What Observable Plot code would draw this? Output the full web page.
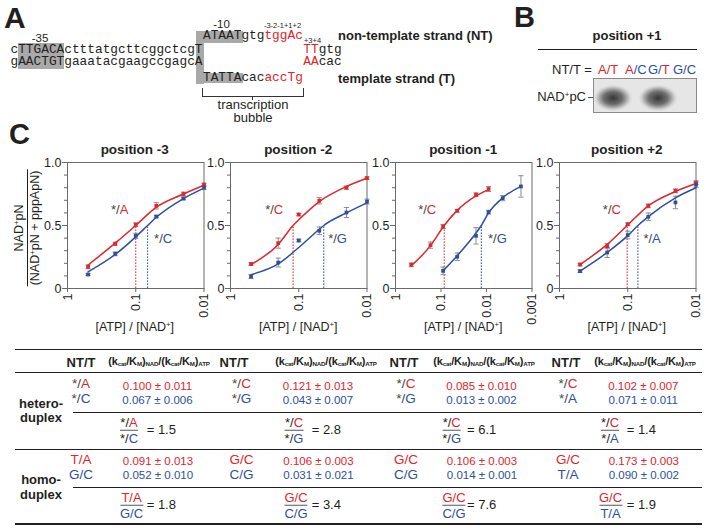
<!DOCTYPE html>
<html><head><meta charset="utf-8">
<script src="https://cdn.jsdelivr.net/npm/d3@7"></script>
<script src="https://cdn.jsdelivr.net/npm/@observablehq/plot@0.6"></script>
<style>
body{margin:0;background:#fff;}
#fig{position:relative;width:706px;height:529px;overflow:hidden;background:#fff;font-family:"Liberation Sans",Arial,Helvetica,sans-serif;color:#231f20;}
.t{position:absolute;white-space:nowrap;line-height:0.9;}
.mono{font-family:"Liberation Mono","DejaVu Sans Mono",monospace;line-height:0.85;}
.sup{font-size:0.62em;position:relative;top:-0.5em;}
.sub{font-size:0.56em;position:relative;top:0.3em;}
</style></head><body><div id="fig"></div>
<script>
const RED = "#e2242b", BLUE = "#2c4f9f", INK = "#231f20", GREY = "#8c8c8c";

// ---------- panel C data ----------
const panelTitles = ["position -3", "position -2", "position -1", "position +2"];
const redLetter = ["A", "C", "C", "C"];
const blueLetter = ["C", "G", "G", "A"];
const yTicks = [0, 0.5, 1];
const yMinor = [0.1, 0.2, 0.3, 0.4, 0.6, 0.7, 0.8, 0.9];
const xTicks2 = [1, 0.1, 0.01];
const xTicks3 = [1, 0.1, 0.01, 0.001];
const conc = [0.5, 0.2, 0.1, 0.05, 0.02, 0.01];

// position -3
const m3RedY = [0.172, 0.355, 0.506, 0.656, 0.750, 0.825];
const m3RedErr = [0.015, 0.012, 0.015, 0.025, 0.015, 0.010];
const m3BlueY = [0.111, 0.275, 0.418, 0.571, 0.714, 0.800];
const m3BlueErr = [0.008, 0.015, 0.020, 0.010, 0.010, 0.012];
const m3RedFitX = [0.5, 0.2, 0.1, 0.05, 0.02, 0.01];
const m3RedFitY = [0.186, 0.360, 0.500, 0.645, 0.750, 0.820];
const m3BlueFitX = [0.5, 0.2, 0.1, 0.067, 0.05, 0.02, 0.01];
const m3BlueFitY = [0.132, 0.270, 0.410, 0.500, 0.565, 0.714, 0.797];
// position -2
const m2RedY = [0.194, 0.360, 0.587, 0.696, 0.800, 0.876];
const m2RedErr = [0.010, 0.040, 0.010, 0.025, 0.012, 0.010];
const m2BlueY = [0.095, 0.206, 0.381, 0.458, 0.603, 0.690];
const m2BlueErr = [0.015, 0.035, 0.010, 0.030, 0.040, 0.020];
const m2RedFitX = [0.5, 0.2, 0.121, 0.1, 0.05, 0.02, 0.01];
const m2RedFitY = [0.190, 0.350, 0.500, 0.545, 0.690, 0.810, 0.875];
const m2BlueFitX = [0.5, 0.2, 0.1, 0.05, 0.043, 0.02, 0.01];
const m2BlueFitY = [0.110, 0.195, 0.325, 0.470, 0.500, 0.600, 0.680];
// position -1
const m1RedX = [0.45, 0.17, 0.09, 0.044, 0.017, 0.009];
const m1RedY = [0.188, 0.344, 0.492, 0.617, 0.744, 0.790];
const m1RedErr = [0.015, 0.025, 0.015, 0.010, 0.015, 0.020];
const m1BlueX = [0.09, 0.044, 0.017, 0.009, 0.0044, 0.00175];
const m1BlueY = [0.140, 0.252, 0.418, 0.606, 0.717, 0.810];
const m1BlueErr = [0.030, 0.030, 0.065, 0.015, 0.020, 0.085];
const m1RedFitX = [0.45, 0.17, 0.085, 0.044, 0.017, 0.009];
const m1RedFitY = [0.180, 0.340, 0.500, 0.620, 0.735, 0.785];
const m1BlueFitX = [0.09, 0.044, 0.017, 0.013, 0.009, 0.0044, 0.00175];
const m1BlueFitY = [0.140, 0.260, 0.440, 0.500, 0.600, 0.720, 0.810];
// position +2
const p2RedY = [0.190, 0.336, 0.510, 0.656, 0.775, 0.840];
const p2RedErr = [0.010, 0.020, 0.010, 0.015, 0.015, 0.015];
const p2BlueY = [0.138, 0.286, 0.424, 0.569, 0.683, 0.823];
const p2BlueErr = [0.010, 0.040, 0.030, 0.030, 0.050, 0.020];
const p2RedFitX = [0.5, 0.2, 0.102, 0.05, 0.02, 0.01];
const p2RedFitY = [0.190, 0.350, 0.500, 0.656, 0.770, 0.833];
const p2BlueFitX = [0.5, 0.2, 0.1, 0.071, 0.05, 0.02, 0.01];
const p2BlueFitY = [0.138, 0.286, 0.420, 0.500, 0.571, 0.720, 0.800];
// curve label anchors (data units)
const redLabelX = [0.172, 0.232, 0.205, 0.173];
const blueLabelX = [0.0402, 0.0277, 0.00597, 0.044];
const redLabelY = 0.627, blueLabelY = 0.397;

// ---------- table data ----------
const heteroRedGeno = ["A", "C", "C", "C"];
const heteroBlueGeno = ["C", "G", "G", "A"];
const heteroRedRatio = [0.100, 0.121, 0.085, 0.102];
const heteroRedErr = [0.011, 0.013, 0.010, 0.007];
const heteroBlueRatio = [0.067, 0.043, 0.013, 0.071];
const heteroBlueErr = [0.006, 0.007, 0.002, 0.011];
const heteroFold = ["1.5", "2.8", "6.1", "1.4"];
const homoRedPair = ["T/A", "G/C", "G/C", "G/C"];
const homoBluePair = ["G/C", "C/G", "C/G", "T/A"];
const homoRedRatio = [0.091, 0.106, 0.106, 0.173];
const homoRedErr = [0.013, 0.003, 0.003, 0.003];
const homoBlueRatio = [0.052, 0.031, 0.014, 0.090];
const homoBlueErr = [0.010, 0.021, 0.001, 0.002];
const homoFold = ["1.8", "3.4", "7.6", "1.9"];

// ---------- helpers ----------
const fig = document.getElementById("fig");
function T(html, x, y, o = {}) {
  const d = document.createElement("div");
  d.className = "t" + (o.mono ? " mono" : "");
  d.innerHTML = html;
  const ax = o.anchor === "middle" ? -50 : o.anchor === "end" ? -100 : 0;
  d.style.left = x + "px"; d.style.top = y + "px";
  d.style.transform = `translate(${ax}%,-50%)` + (o.rotate ? ` rotate(${o.rotate}deg)` : "");
  d.style.fontSize = (o.size || 12.5) + "px";
  if (o.bold) d.style.fontWeight = "bold";
  if (o.color) d.style.color = o.color;
  if (o.css) Object.assign(d.style, o.css);
  fig.appendChild(d); return d;
}
function R(x, y, w, h, color) {
  const d = document.createElement("div");
  Object.assign(d.style, {position: "absolute", left: x + "px", top: y + "px", width: w + "px", height: h + "px", background: color || INK});
  fig.appendChild(d); return d;
}
const r = s => `<span style="color:${RED}">${s}</span>`;
const b = s => `<span style="color:${BLUE}">${s}</span>`;

// ---------- panel A ----------
T("A", 4, 17, {size: 30, bold: true});
R(18, 43, 46, 26, "#a9a9a9");
R(195.5, 31, 8, 53, "#a9a9a9");
R(199.3, 31, 43.4, 12.3, "#a9a9a9");
R(199.3, 72.7, 43.4, 10.7, "#a9a9a9");
T("-35", 40, 37.5, {anchor: "middle", size: 11.5});
T("-10", 221.5, 24, {anchor: "middle", size: 11.5});
const ms = 12.8;
T("cTTGACActttatgcttcggctcgT", 10.5, 50, {mono: true, size: ms});
T("gAACTGTgaaatacgaagccgagcA", 10.5, 61.7, {mono: true, size: ms});
T("ATAATgtg" + r("tggAc"), 203, 36.2, {mono: true, size: ms});
T(r("TT") + "gtg", 303.3, 50, {mono: true, size: ms});
T(r("AA") + "cac", 303.3, 61.7, {mono: true, size: ms});
T("TATTAcac" + r("accTg"), 203, 78.2, {mono: true, size: ms});
T("-3-2-1+1+2", 282.5, 25.5, {anchor: "middle", size: 7.5});
T("+3+4", 312.5, 41.3, {anchor: "middle", size: 7.5});
R(202, 88, 1, 9, "#333"); R(303, 88, 1, 9, "#333"); R(202, 96, 102, 1, "#333"); R(252, 96, 1, 4, "#333");
T("transcription", 253, 105, {anchor: "middle", size: 13});
T("bubble", 253, 117.5, {anchor: "middle", size: 13});
T("non-template strand (NT)", 338, 36, {size: 13, bold: true});
T("template strand (T)", 338, 79, {size: 13, bold: true});

// ---------- panel B ----------
T("B", 514, 17, {size: 29, bold: true});
T("position +1", 627, 36, {anchor: "middle", size: 13, bold: true});
R(538, 48.7, 159, 1.3, INK);
T("NT/T =", 552, 70, {size: 13});
T(r("A/T"), 598, 70, {size: 13});
T(r("A") + b("/C"), 625, 70, {size: 13});
T(b("G/") + r("T"), 648, 70, {size: 13});
T(b("G/C"), 673, 70, {size: 13});
const gel = R(593.3, 78.3, 103.4, 35, "#e6e6e6");
gel.style.boxSizing = "border-box"; gel.style.border = "1px solid #8a8a8a";
[613, 658].forEach(cx => {
  const blob = R(cx - 19, 98 - 13, 38, 26, "transparent");
  blob.style.background = "radial-gradient(ellipse at center, rgba(45,45,45,0.95) 0%, rgba(70,70,70,0.75) 35%, rgba(150,150,150,0.25) 62%, rgba(200,200,200,0) 72%)";
});
T("NAD<span class='sup'>+</span>pC", 586, 97, {anchor: "end", size: 13});
R(587.5, 97, 5.8, 1, "#555");

// ---------- panel C ----------
T("C", 9, 134, {size: 29, bold: true});
T(`<div style="line-height:13px">NAD<span class='sup'>+</span>pN</div><div style="border-top:1.2px solid ${INK};line-height:13px;padding:1px 1px 0">(NAD<span class='sup'>+</span>pN + pppApN)</div>`, 27.5, 228, {anchor: "middle", size: 12.5, rotate: -90, css: {textAlign: "center"}});

const capSymbol = {draw(ctx, size) { const h = Math.sqrt(size / Math.PI); ctx.moveTo(-h, 0); ctx.lineTo(h, 0); }};
const panels = [
  {redX: conc, redY: m3RedY, redE: m3RedErr, blueX: conc, blueY: m3BlueY, blueE: m3BlueErr,
   rfx: m3RedFitX, rfy: m3RedFitY, bfx: m3BlueFitX, bfy: m3BlueFitY, ticks: xTicks2},
  {redX: conc, redY: m2RedY, redE: m2RedErr, blueX: conc, blueY: m2BlueY, blueE: m2BlueErr,
   rfx: m2RedFitX, rfy: m2RedFitY, bfx: m2BlueFitX, bfy: m2BlueFitY, ticks: xTicks2},
  {redX: m1RedX, redY: m1RedY, redE: m1RedErr, blueX: m1BlueX, blueY: m1BlueY, blueE: m1BlueErr,
   rfx: m1RedFitX, rfy: m1RedFitY, bfx: m1BlueFitX, bfy: m1BlueFitY, ticks: xTicks3},
  {redX: conc, redY: p2RedY, redE: p2RedErr, blueX: conc, blueY: p2BlueY, blueE: p2BlueErr,
   rfx: p2RedFitX, rfy: p2RedFitY, bfx: p2BlueFitX, bfy: p2BlueFitY, ticks: xTicks2}
];
const frameLeft = [66.5, 230, 395, 558.5];
const frameTop = 162, fw = 136.5, fh = 126;
const mL = 34, mR = 8, mT = 6, mB = 40;

panels.forEach((p, i) => {
  const pts = (xs, ys, es, c) => xs.map((x, j) => ({x, y: ys[j], e: es[j], c}));
  const fit = (xs, ys) => xs.map((x, j) => ({x, y: ys[j]}));
  const data = pts(p.redX, p.redY, p.redE, RED).concat(pts(p.blueX, p.blueY, p.blueE, BLUE));
  const half = [{x: heteroRedRatio[i], c: RED}, {x: heteroBlueRatio[i], c: BLUE}];
  const labels = [{x: redLabelX[i], y: redLabelY, l: redLetter[i], c: RED}, {x: blueLabelX[i], y: blueLabelY, l: blueLetter[i], c: BLUE}];
  const svg = Plot.plot({
    width: fw + mL + mR, height: fh + mT + mB,
    marginLeft: mL, marginRight: mR, marginTop: mT, marginBottom: mB,
    style: {fontFamily: "Liberation Sans, Arial, sans-serif", fontSize: "12.5px", color: INK, background: "transparent", overflow: "visible"},
    x: {type: "log", domain: [1, p.ticks[p.ticks.length - 1]], axis: null},
    y: {domain: [0, 1], axis: null},
    marks: [
      Plot.ruleX(half, {x: "x", y1: 0, y2: 0.5, stroke: "c", strokeWidth: 1, strokeDasharray: "1.6,1.4"}),
      Plot.frame({stroke: "#6a6a6a", strokeWidth: 1}),
      Plot.axisY({ticks: yTicks, tickSize: 5, tickPadding: 1, tickFormat: d => d === 0 ? "0" : d.toFixed(1), label: null, stroke: "#6a6a6a", fill: INK, fontSize: 12.5}),
      Plot.axisY({ticks: yMinor, tickSize: 3, tickFormat: () => "", label: null, stroke: "#6a6a6a"}),
      Plot.axisX({ticks: p.ticks, tickSize: 4, tickPadding: 1, tickRotate: -90, tickFormat: d => String(d), label: null, stroke: "#6a6a6a", fill: INK, fontSize: 12.5}),
      Plot.ruleX(data, {x: "x", y1: d => d.y - d.e, y2: d => d.y + d.e, stroke: GREY, strokeWidth: 1}),
      Plot.dot(data, {x: "x", y: d => d.y + d.e, symbol: capSymbol, r: 2.6, stroke: GREY, fill: "none", strokeWidth: 1}),
      Plot.dot(data, {x: "x", y: d => d.y - d.e, symbol: capSymbol, r: 2.6, stroke: GREY, fill: "none", strokeWidth: 1}),
      Plot.line(fit(p.rfx, p.rfy), {x: "x", y: "y", stroke: RED, strokeWidth: 1.5, curve: "monotone-x"}),
      Plot.line(fit(p.bfx, p.bfy), {x: "x", y: "y", stroke: BLUE, strokeWidth: 1.5, curve: "monotone-x"}),
      Plot.dot(data, {x: "x", y: "y", symbol: "square", r: 2.1, fill: "c", stroke: "none"}),
      Plot.text(labels, {x: "x", y: "y", text: () => "*/", textAnchor: "end", fill: "#444", fontSize: 13}),
      Plot.text(labels, {x: "x", y: "y", text: "l", textAnchor: "start", fill: "c", fontSize: 13})
    ]
  });
  Object.assign(svg.style, {position: "absolute", left: (frameLeft[i] - mL) + "px", top: (frameTop - mT) + "px"});
  fig.appendChild(svg);
  const cx = frameLeft[i] + fw / 2;
  T(panelTitles[i], cx, 150, {anchor: "middle", size: 13.5, bold: true});
  T("[ATP] / [NAD<span class='sup'>+</span>]", cx, 328, {anchor: "middle", size: 12.5});
});

// ---------- table ----------
R(15, 348.5, 687, 1.6); R(15, 372, 687, 1.4); R(73, 411.7, 629, 1.3);
R(15, 448.6, 687, 1.6); R(73, 487, 629, 1.3); R(15, 523.3, 687, 1.6);
const genoX = [81, 241.5, 406, 568];
const headX = [81, 234, 404, 566];
const ratioHeadX = [159, 326, 484, 645];
const valX = [157.5, 318, 481.5, 643.3];
const fracX = [129, 294, 451.7, 610];
const homoFracX = [131.5, 296, 454, 610.5];
const eqX = [146.7, 311.7, 467, 626.7];
const fmt = (v, e) => v.toFixed(3) + " ± " + e.toFixed(3);
const kHead = "(k<span class='sub'>cat</span>/K<span class='sub'>M</span>)<span class='sub'>NAD</span>/(k<span class='sub'>cat</span>/K<span class='sub'>M</span>)<span class='sub'>ATP</span>";
T("hetero-", 41, 403.5, {anchor: "middle", size: 13, bold: true});
T("duplex", 41, 418, {anchor: "middle", size: 13, bold: true});
T("homo-", 41, 480, {anchor: "middle", size: 13, bold: true});
T("duplex", 41, 494.5, {anchor: "middle", size: 13, bold: true});
function frac(num, den, x, y) {
  T(`<div style="line-height:14px">${num}</div><div style="border-top:1.2px solid #555;line-height:13px;padding-top:0.5px">${den}</div>`, x, y, {anchor: "middle", size: 13, css: {textAlign: "center"}});
}
for (let i = 0; i < 4; i++) {
  T("NT/T", headX[i], 362.5, {anchor: "middle", size: 13, bold: true});
  T(kHead, ratioHeadX[i], 361.5, {anchor: "middle", size: 11, bold: true, css: {letterSpacing: "-0.15px"}});
  T("*/" + r(heteroRedGeno[i]), genoX[i], 384, {anchor: "middle", size: 13.5, color: "#444"});
  T("*/" + b(heteroBlueGeno[i]), genoX[i], 398.5, {anchor: "middle", size: 13.5, color: "#444"});
  T(fmt(heteroRedRatio[i], heteroRedErr[i]), valX[i], 386, {anchor: "middle", size: 11.5, color: RED});
  T(fmt(heteroBlueRatio[i], heteroBlueErr[i]), valX[i], 400, {anchor: "middle", size: 11.5, color: BLUE});
  frac("*/" + r(heteroRedGeno[i]), "*/" + b(heteroBlueGeno[i]), fracX[i], 430);
  T("= " + heteroFold[i], eqX[i], 430, {size: 13});
  T(homoRedPair[i], genoX[i], 460, {anchor: "middle", size: 13.5, color: RED});
  T(homoBluePair[i], genoX[i], 474.5, {anchor: "middle", size: 13.5, color: BLUE});
  T(fmt(homoRedRatio[i], homoRedErr[i]), valX[i] + 0.5, 461, {anchor: "middle", size: 11.5, color: RED});
  T(fmt(homoBlueRatio[i], homoBlueErr[i]), valX[i] + 0.5, 475, {anchor: "middle", size: 11.5, color: BLUE});
  frac(r(homoRedPair[i]), b(homoBluePair[i]), homoFracX[i], 505);
  T("= " + homoFold[i], eqX[i], 505, {size: 13});
}
</script></body></html>
